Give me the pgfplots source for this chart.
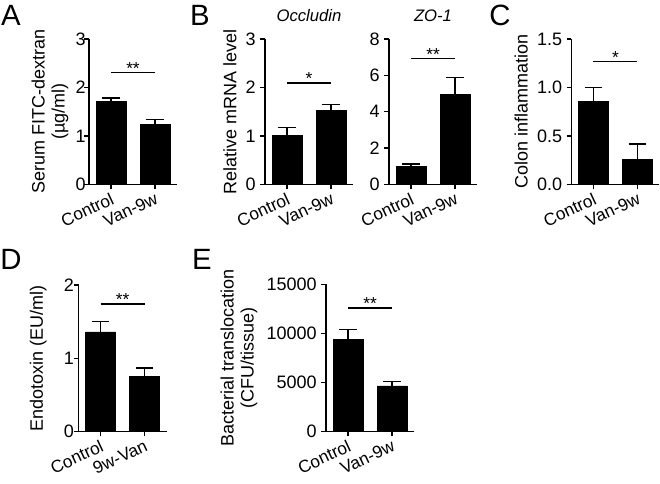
\documentclass[border=0pt]{standalone}
\usepackage{pgfplots}
\pgfplotsset{compat=1.18}
\usepackage{fontspec}
\setmainfont{Liberation Sans}
\begin{document}
\begin{tikzpicture}
\pgfplotsset{
  panel/.style={
    scale only axis,
    width=66pt,
    height=109pt,
    anchor=south west,
    axis x line*=bottom,
    axis y line*=left,
    axis line style={line width=1pt,-},
    every tick/.style={line width=1pt, black},
    tick align=outside,
    major tick length=3.5pt,
    xmin=-0.5, xmax=1.5,
    xtick={0,1},
    xticklabels={Control,Van-9w},
    ymin=0,
    ybar, bar width=22.5pt,
    /pgf/number format/assume math mode=true,
    tick label style={font=\fontsize{13.5}{13.5}\selectfont},
    x tick label style={rotate=25, anchor=north east, inner sep=1.5pt, font=\fontsize{13}{13}\selectfont},
    label style={font=\fontsize{13.5}{15}\selectfont},
    ylabel style={align=center},
    title style={font=\fontsize{12.5}{14}\selectfont\itshape, yshift=3.5pt},
    clip=false,
  },
  barplot/.style={fill=black, draw=black, line width=0.5pt,
    error bars/.cd, y dir=plus, y explicit,
    error bar style={line width=1pt, black},
    error mark options={rotate=90, mark size=6.5pt, line width=1pt, black}},
}
\tikzset{
  sig/.style={line width=1pt},
  star/.style={anchor=south, inner sep=0pt, yshift=-1.5pt, font=\fontsize{13}{13}\selectfont},
}
\useasboundingbox (0,0) rectangle (495pt,362.25pt);

% Panel letters
\node[inner sep=0pt, font=\fontsize{22}{22}\selectfont] at (8.25pt,351pt) {A};
\node[inner sep=0pt, font=\fontsize{22}{22}\selectfont] at (150pt,351pt) {B};
\node[inner sep=0pt, font=\fontsize{22}{22}\selectfont] at (375pt,351pt) {C};
\node[inner sep=0pt, font=\fontsize{22}{22}\selectfont] at (8.25pt,168pt) {D};
\node[inner sep=0pt, font=\fontsize{22}{22}\selectfont] at (151.5pt,168pt) {E};

% A
\begin{axis}[panel, at={(66.75pt,224pt)}, ymax=3, ytick={0,1,2,3},
  yticklabel style={xshift=4.5pt},
  ylabel style={yshift=-1.5pt},
  ylabel={Serum FITC-dextran\\(µg/ml)}]
\addplot[barplot] table[x=x, y=y, y error=e] {
x y e
0 1.71 0.07
1 1.23 0.11
};
\draw[sig] (axis cs:0,2.31) -- (axis cs:1,2.31);
\node[star] at (axis cs:0.5,2.31) {**};
\end{axis}

% B Occludin
\begin{axis}[panel, at={(198.75pt,224pt)}, ymax=3, ytick={0,1,2,3},
  ylabel={Relative mRNA level}, title={Occludin}]
\addplot[barplot] table[x=x, y=y, y error=e] {
x y e
0 1.01 0.16
1 1.53 0.12
};
\draw[sig] (axis cs:0,2.09) -- (axis cs:1,2.09);
\node[star] at (axis cs:0.5,2.09) {*};
\end{axis}

% B ZO-1
\begin{axis}[panel, at={(291.75pt,224pt)}, ymax=8, ytick={0,2,4,6,8},
  title={ZO-1}]
\addplot[barplot] table[x=x, y=y, y error=e] {
x y e
0 1.00 0.12
1 4.95 0.92
};
\draw[sig] (axis cs:0,6.93) -- (axis cs:1,6.93);
\node[star] at (axis cs:0.5,6.93) {**};
\end{axis}

% C
\begin{axis}[panel, at={(428.6pt,224pt)}, ymax=1.5, ytick={0,0.5,1,1.5},
  yticklabel style={/pgf/number format/.cd, fixed, fixed zerofill, precision=1},
  ylabel={Colon inflammation}]
\addplot[barplot] table[x=x, y=y, y error=e] {
x y e
0 0.86 0.14
1 0.255 0.16
};
\draw[sig] (axis cs:0,1.27) -- (axis cs:1,1.27);
\node[star] at (axis cs:0.5,1.27) {*};
\end{axis}

% D
\begin{axis}[panel, at={(58.9pt,38.5pt)}, height=110pt, ymax=2, ytick={0,1,2},
  yticklabel style={xshift=3.5pt},
  ylabel style={yshift=6pt},
  xticklabels={Control,9w-Van},
  ylabel={Endotoxin (EU/ml)}]
\addplot[barplot] table[x=x, y=y, y error=e] {
x y e
0 1.36 0.14
1 0.75 0.12
};
\draw[sig] (axis cs:0,1.74) -- (axis cs:1,1.74);
\node[star] at (axis cs:0.5,1.74) {**};
\end{axis}

% E
\begin{axis}[panel, at={(244.5pt,38.5pt)}, height=110.5pt, ymax=15000,
  ytick={0,5000,10000,15000}, scaled y ticks=false,
  yticklabel style={/pgf/number format/.cd, fixed, 1000 sep={}},
  ylabel={Bacterial translocation\\(CFU/tissue)}]
\addplot[barplot] table[x=x, y=y, y error=e] {
x y e
0 9400 1020
1 4650 440
};
\draw[sig] (axis cs:0,12600) -- (axis cs:1,12600);
\node[star] at (axis cs:0.5,12600) {**};
\end{axis}
\end{tikzpicture}
\end{document}
